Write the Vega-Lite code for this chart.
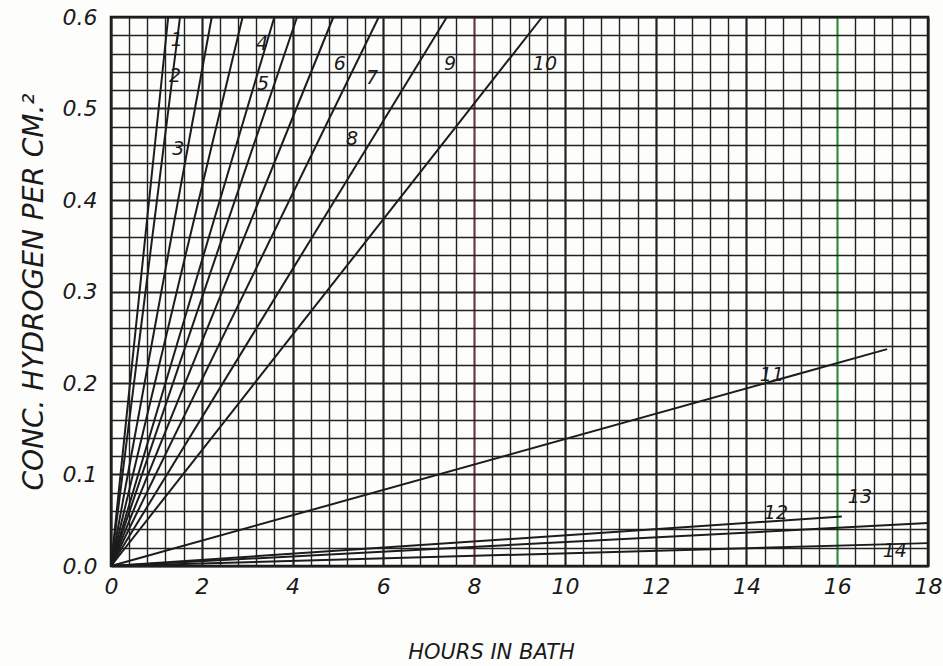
{
  "$schema": "https://vega.github.io/schema/vega-lite/v6.json",
  "width": 817,
  "height": 549,
  "autosize": "none",
  "padding": {"left": 111, "top": 17, "right": 15, "bottom": 100},
  "background": "#fdfdfb",
  "config": {"view": {"stroke": "#111111", "strokeWidth": 2.5}, "font": "DejaVu Sans"},
  "datasets": {
    "lines": [
      {"line": "1", "h": 0, "c": 0}, {"line": "1", "h": 1.26, "c": 0.6},
      {"line": "2", "h": 0, "c": 0}, {"line": "2", "h": 1.52, "c": 0.6},
      {"line": "3", "h": 0, "c": 0}, {"line": "3", "h": 2.22, "c": 0.6},
      {"line": "4", "h": 0, "c": 0}, {"line": "4", "h": 2.9, "c": 0.6},
      {"line": "5", "h": 0, "c": 0}, {"line": "5", "h": 3.6, "c": 0.6},
      {"line": "6", "h": 0, "c": 0}, {"line": "6", "h": 4.1, "c": 0.6},
      {"line": "7", "h": 0, "c": 0}, {"line": "7", "h": 4.9, "c": 0.6},
      {"line": "8", "h": 0, "c": 0}, {"line": "8", "h": 5.9, "c": 0.6},
      {"line": "9", "h": 0, "c": 0}, {"line": "9", "h": 7.4, "c": 0.6},
      {"line": "10", "h": 0, "c": 0}, {"line": "10", "h": 9.5, "c": 0.6},
      {"line": "11", "h": 0, "c": 0}, {"line": "11", "h": 17.1, "c": 0.237},
      {"line": "12", "h": 0, "c": 0}, {"line": "12", "h": 16.1, "c": 0.054},
      {"line": "13", "h": 0, "c": 0}, {"line": "13", "h": 18, "c": 0.047},
      {"line": "14", "h": 0, "c": 0}, {"line": "14", "h": 18, "c": 0.025}
    ],
    "labels": [
      {"label": "1", "h": 1.45, "c": 0.575},
      {"label": "2", "h": 1.41, "c": 0.535},
      {"label": "3", "h": 1.48, "c": 0.456},
      {"label": "4", "h": 3.33, "c": 0.571},
      {"label": "5", "h": 3.35, "c": 0.527},
      {"label": "6", "h": 5.04, "c": 0.549},
      {"label": "7", "h": 5.75, "c": 0.533},
      {"label": "8", "h": 5.31, "c": 0.467},
      {"label": "9", "h": 7.47, "c": 0.549},
      {"label": "10", "h": 9.56, "c": 0.549},
      {"label": "11", "h": 14.56, "c": 0.209},
      {"label": "12", "h": 14.65, "c": 0.058},
      {"label": "13", "h": 16.5, "c": 0.075},
      {"label": "14", "h": 17.27, "c": 0.016}
    ]
  },
  "layer": [
    {
      "data": {"name": "lines"},
      "mark": {"type": "line", "color": "#1c1c1c", "strokeWidth": 2},
      "encoding": {
        "x": {
          "field": "h", "type": "quantitative",
          "scale": {"domain": [0, 18], "nice": false},
          "axis": {
            "title": "HOURS IN BATH",
            "titleFontSize": 21, "titleFontStyle": "italic", "titleFontWeight": "normal",
            "titleColor": "#1a1a1a", "titlePadding": 44, "titleX": 380,
            "labelFontSize": 22, "labelFontStyle": "italic", "labelColor": "#1a1a1a",
            "labelPadding": 10, "labelOverlap": false, "labelFlush": false,
            "ticks": false, "domain": false, "tickCount": 200,
            "values": [0,0.4,0.8,1.2,1.6,2,2.4,2.8,3.2,3.6,4,4.4,4.8,5.2,5.6,6,6.4,6.8,7.2,7.6,8,8.4,8.8,9.2,9.6,10,10.4,10.8,11.2,11.6,12,12.4,12.8,13.2,13.6,14,14.4,14.8,15.2,15.6,16,16.4,16.8,17.2,17.6,18],
            "labelExpr": "datum.value % 2 == 0 ? format(datum.value, 'd') : ''",
            "grid": true,
            "gridOpacity": 1,
            "gridColor": {"condition": [{"test": "datum.value == 16", "value": "#2f8f3a"}, {"test": "datum.value == 8", "value": "#6e3a3a"}], "value": "#222222"},
            "gridWidth": {"condition": {"test": "datum.value % 2 == 0", "value": 2.2}, "value": 1.4}
          }
        },
        "y": {
          "field": "c", "type": "quantitative",
          "scale": {"domain": [0, 0.6], "nice": false},
          "axis": {
            "title": "CONC. HYDROGEN PER CM.²",
            "titleFontSize": 28, "titleFontStyle": "italic", "titleFontWeight": "normal",
            "titleColor": "#1a1a1a", "titlePadding": 14,
            "labelFontSize": 22, "labelFontStyle": "italic", "labelColor": "#1a1a1a",
            "labelPadding": 14, "labelOverlap": false, "labelFlush": false,
            "ticks": false, "domain": false, "tickCount": 200,
            "values": [0,0.02,0.04,0.06,0.08,0.1,0.12,0.14,0.16,0.18,0.2,0.22,0.24,0.26,0.28,0.3,0.32,0.34,0.36,0.38,0.4,0.42,0.44,0.46,0.48,0.5,0.52,0.54,0.56,0.58,0.6],
            "labelExpr": "abs(datum.value*10 - round(datum.value*10)) < 0.001 ? format(datum.value, '.1f') : ''",
            "grid": true,
            "gridOpacity": 1,
            "gridColor": "#222222",
            "gridWidth": {"condition": {"test": "abs(datum.value*10 - round(datum.value*10)) < 0.001", "value": 2.2}, "value": 1.4}
          }
        },
        "detail": {"field": "line"},
        "order": {"field": "h"}
      }
    },
    {
      "data": {"name": "labels"},
      "mark": {"type": "text", "fontSize": 19, "fontStyle": "italic", "color": "#1a1a1a", "font": "DejaVu Sans"},
      "encoding": {
        "x": {"field": "h", "type": "quantitative"},
        "y": {"field": "c", "type": "quantitative"},
        "text": {"field": "label"}
      }
    }
  ]
}
